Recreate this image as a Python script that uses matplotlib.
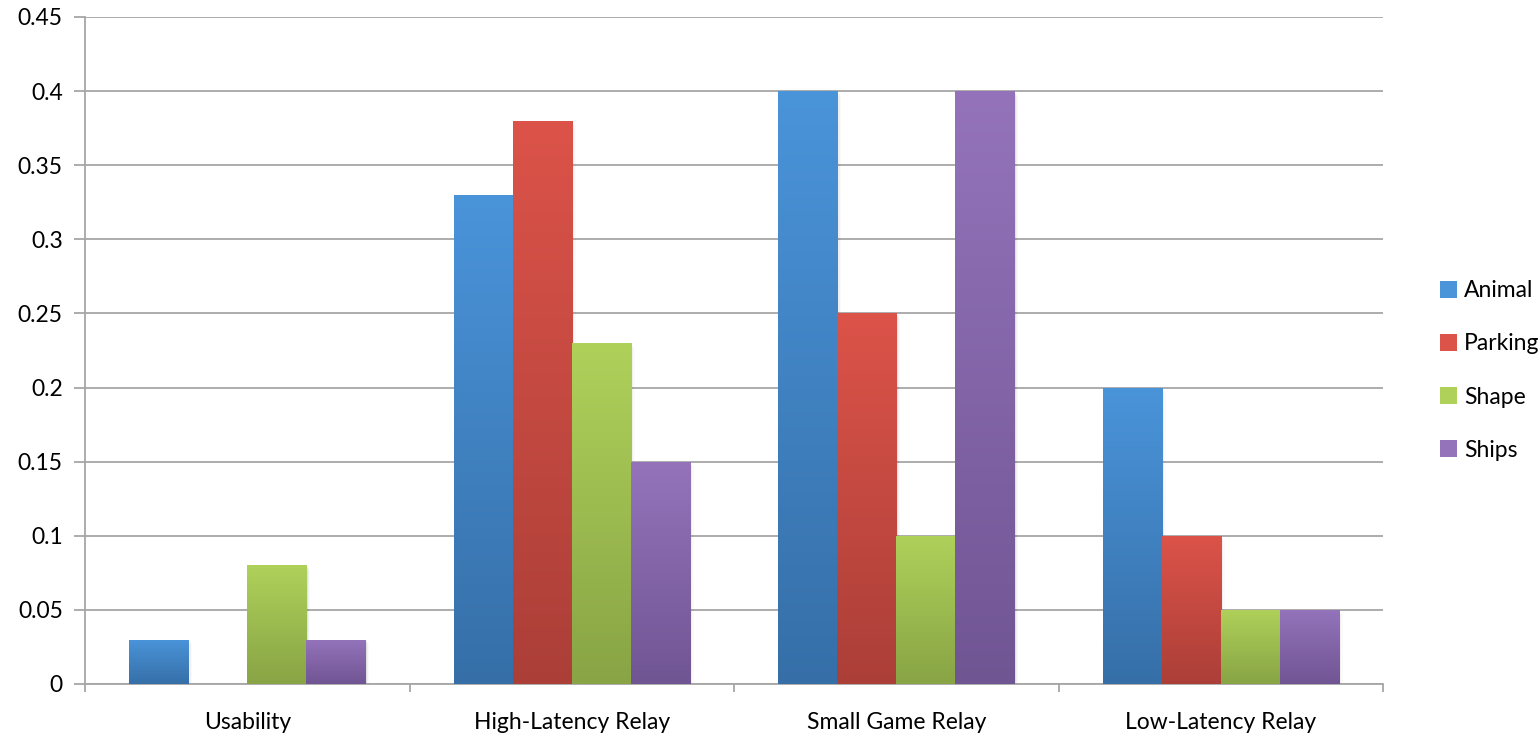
import numpy as np
import matplotlib.pyplot as plt
from matplotlib.colors import LinearSegmentedColormap
from matplotlib.patches import Rectangle

categories = ["Usability", "High-Latency Relay", "Small Game Relay", "Low-Latency Relay"]
series = ["Animal", "Parking", "Shape", "Ships"]
animal = [0.03, 0.33, 0.40, 0.20]
parking = [0.0, 0.38, 0.25, 0.10]
shape = [0.08, 0.23, 0.10, 0.05]
ships = [0.03, 0.15, 0.40, 0.05]
values = [animal, parking, shape, ships]

# top / bottom colours of each series gradient
grad = [("#4a94da", "#366fa8"),
        ("#dc5349", "#ab3f38"),
        ("#afd15a", "#88a445"),
        ("#9473bb", "#705593")]

plt.rcParams['font.family'] = ['Lato', 'DejaVu Sans']
fig = plt.figure(figsize=(15.38, 7.34), dpi=100)
ax = fig.add_axes([85 / 1538, 50 / 734, 1298 / 1538, 667 / 734])

width = 0.182
offsets = (np.arange(4) - 1.5) * width
x = np.arange(len(categories))

for i, vals in enumerate(values):
    cmap = LinearSegmentedColormap.from_list(series[i], [grad[i][1], grad[i][0]])
    for xi, v in zip(x + offsets[i], vals):
        if v <= 0:
            continue
        left = xi - width / 2
        # soft shadow on the right side
        for k, a in enumerate([0.06, 0.04, 0.02]):
            ax.add_patch(Rectangle((left + 0.004 * (k + 1), 0), width, v - 0.001 * (k + 1),
                                   facecolor="#000000", alpha=a, linewidth=0, zorder=2))
        bar = Rectangle((left, 0), width, v, facecolor="none", linewidth=0, zorder=3)
        ax.add_patch(bar)
        im = ax.imshow(np.linspace(0, 1, 256).reshape(-1, 1), cmap=cmap, origin="lower",
                       extent=(left, left + width, 0, v), aspect="auto", zorder=3)
        im.set_clip_path(bar)
    ax.bar([0], [0], color=grad[i][0], label=series[i])

ax.set_xlim(-0.5, 3.5)
ax.set_ylim(0, 0.45)
yt = np.arange(0, 0.451, 0.05)
ax.set_yticks(yt)
ax.set_yticklabels(["0" if t == 0 else f"{t:.2f}".rstrip("0") for t in yt])
ax.yaxis.grid(True, color="#a6a6a6", linewidth=1.3)
ax.set_axisbelow(True)

ax.set_xticks(x)
ax.set_xticklabels(categories)
ax.set_xticks(np.arange(-0.5, 3.6, 1), minor=True)
ax.tick_params(axis="x", which="major", length=0, pad=20, labelsize=16.5)
ax.tick_params(axis="x", which="minor", length=6, color="#a6a6a6", width=1.3)
ax.tick_params(axis="y", length=8, color="#a6a6a6", width=1.3, pad=8, labelsize=16.5)

for side in ["top", "right"]:
    ax.spines[side].set_visible(False)
for side in ["left", "bottom"]:
    ax.spines[side].set_color("#a6a6a6")
    ax.spines[side].set_linewidth(1.3)

leg = ax.legend(loc="center left", bbox_to_anchor=(1.028, 0.47), frameon=False,
                fontsize=16.5, handlelength=0.75, handleheight=0.75, handletextpad=0.3,
                labelspacing=1.4)

fig.savefig("out.png", dpi=100)
